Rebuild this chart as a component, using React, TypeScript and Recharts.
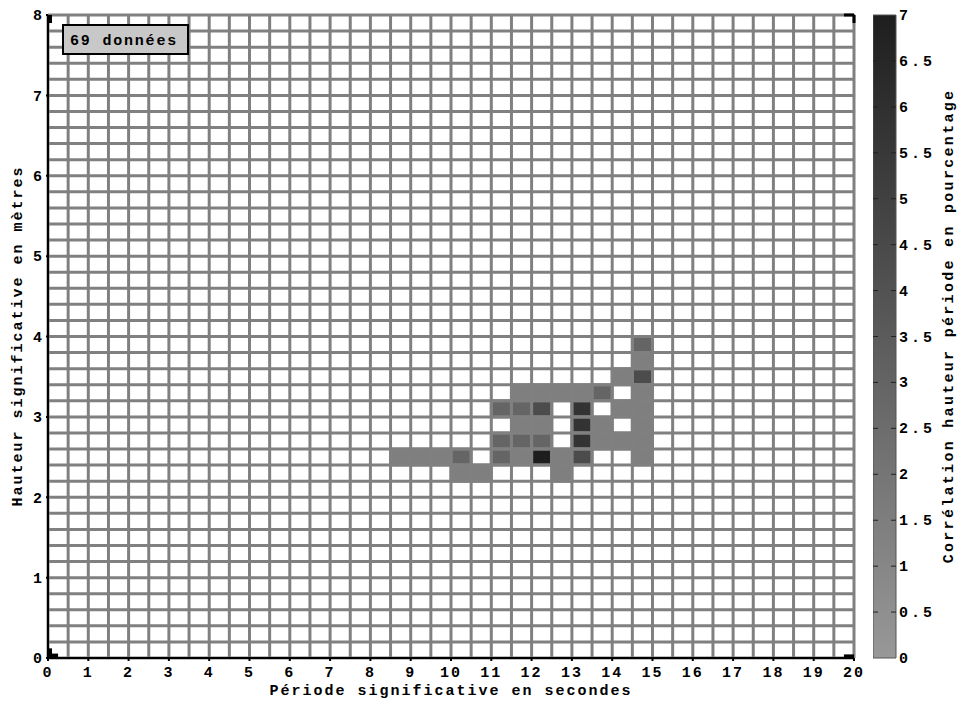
import React from "react";
import {
  ComposedChart,
  BarChart,
  Bar,
  XAxis,
  YAxis,
  ReferenceLine,
  ReferenceArea,
} from "recharts";

// cells: lower-left corner (period in s, height in m) and percentage of the 69 records
const cellPeriod = [
  14.5,
  14.5,
  14.0, 14.5,
  11.5, 12.0, 12.5, 13.0, 13.5, 14.5,
  11.0, 11.5, 12.0, 13.0, 14.0, 14.5,
  11.5, 12.0, 13.0, 13.5, 14.5,
  11.0, 11.5, 12.0, 13.0, 13.5, 14.0, 14.5,
  8.5, 9.0, 9.5, 10.0, 11.0, 11.5, 12.0, 12.5, 13.0, 14.5,
  10.0, 10.5, 12.5,
];
const cellHeight = [
  3.8,
  3.6,
  3.4, 3.4,
  3.2, 3.2, 3.2, 3.2, 3.2, 3.2,
  3.0, 3.0, 3.0, 3.0, 3.0, 3.0,
  2.8, 2.8, 2.8, 2.8, 2.8,
  2.6, 2.6, 2.6, 2.6, 2.6, 2.6, 2.6,
  2.4, 2.4, 2.4, 2.4, 2.4, 2.4, 2.4, 2.4, 2.4, 2.4,
  2.2, 2.2, 2.2,
];
const cellPercent = [
  2.9,
  1.45,
  1.45, 4.35,
  1.45, 1.45, 1.45, 1.45, 2.9, 1.45,
  2.9, 2.9, 4.35, 5.8, 1.45, 1.45,
  1.45, 1.45, 5.8, 1.45, 1.45,
  2.9, 2.9, 2.9, 5.8, 1.45, 1.45, 1.45,
  1.45, 1.45, 1.45, 2.9, 2.9, 1.45, 7.25, 1.45, 4.35, 1.45,
  1.45, 1.45, 1.45,
];

const xTicks = [0, 1, 2, 3, 4, 5, 6, 7, 8, 9, 10, 11, 12, 13, 14, 15, 16, 17, 18, 19, 20];
const yTicks = [0, 1, 2, 3, 4, 5, 6, 7, 8];
const scaleTicks = [0, 0.5, 1, 1.5, 2, 2.5, 3, 3.5, 4, 4.5, 5, 5.5, 6, 6.5, 7];
const scaleBar = [{ name: "scale", max: 7 }];

const CELL_W = 0.5;
const CELL_H = 0.2;
const gridX = Array.from({ length: 41 }, (_, i) => i * CELL_W);
const gridY = Array.from({ length: 41 }, (_, i) => Math.round(i * 2) / 10);

const FONT = "'Liberation Mono', 'DejaVu Sans Mono', monospace";
const GRID = "#808080";

// grey ramp of the colour scale: 0 -> light grey, 7 -> near black
function greyFor(v: number) {
  const t = Math.max(0, Math.min(1, v / 7));
  const g = Math.round(152 - t * 122);
  return `rgb(${g},${g},${g})`;
}

function ScaleTick(props: any) {
  const { x, y, payload } = props;
  const barLeft = x - 26;
  const barRight = x - 3;
  return (
    <g>
      {payload.value > 0 && payload.value < 7 && (
        <>
          <line x1={barLeft} x2={barLeft + 5} y1={y} y2={y} stroke="#222" strokeWidth={1} />
          <line x1={barRight - 5} x2={barRight} y1={y} y2={y} stroke="#222" strokeWidth={1} />
        </>
      )}
      <text
        x={x}
        y={y}
        dy={5}
        fontFamily={FONT}
        fontWeight="bold"
        fontSize={15}
        letterSpacing={3}
        fill="#000"
      >
        {payload.value}
      </text>
    </g>
  );
}

export default function App() {
  const tickStyle = { fill: "#000", fontSize: 15, fontFamily: FONT, fontWeight: "bold" as const, letterSpacing: 2 };

  return (
    <div style={{ position: "relative", width: 959, height: 702, background: "#fff" }}>
      <style>{`body{margin:0}`}</style>

      <div style={{ position: "absolute", left: 0, top: 0 }}>
        <ComposedChart
          width={959}
          height={702}
          data={scaleBar}
          margin={{ top: 15, right: 105, bottom: 0, left: 0 }}
        >
          <XAxis
            type="number"
            dataKey="max"
            domain={[0, 20]}
            allowDataOverflow
            ticks={xTicks}
            interval={0}
            height={44}
            tick={tickStyle}
            tickSize={3}
            tickMargin={5}
            axisLine={{ stroke: "#000", strokeWidth: 2 }}
            tickLine={{ stroke: "#000", strokeWidth: 2 }}
          />
          <YAxis
            type="number"
            domain={[0, 8]}
            allowDataOverflow
            ticks={yTicks}
            interval={0}
            width={48}
            tick={tickStyle}
            tickSize={2}
            tickMargin={2}
            axisLine={{ stroke: "#000", strokeWidth: 2 }}
            tickLine={{ stroke: "#000", strokeWidth: 2 }}
          />

          {gridX.map((v) => (
            <ReferenceLine key={`gx${v}`} x={v} stroke={GRID} strokeWidth={3} />
          ))}
          {gridY.map((v) => (
            <ReferenceLine key={`gy${v}`} y={v} stroke={GRID} strokeWidth={3} />
          ))}

          {cellPeriod.map((p, i) => (
            <ReferenceArea
              key={`c${i}`}
              x1={p}
              x2={p + CELL_W}
              y1={cellHeight[i]}
              y2={cellHeight[i] + CELL_H}
              fill={greyFor(cellPercent[i])}
              fillOpacity={1}
              stroke={GRID}
              strokeWidth={3}
            />
          ))}

          <ReferenceArea x1={0} x2={20} y1={0} y2={8} fill="none" stroke="#000" strokeWidth={1.5} />
          <ReferenceLine segment={[{ x: 0, y: 0.03 }, { x: 0.25, y: 0.03 }]} stroke="#000" strokeWidth={4} />
          <ReferenceLine segment={[{ x: 0.05, y: 0 }, { x: 0.05, y: 0.12 }]} stroke="#000" strokeWidth={4} />
          <ReferenceLine segment={[{ x: 0.05, y: 8 }, { x: 0.05, y: 7.9 }]} stroke="#000" strokeWidth={4} />
          <ReferenceLine segment={[{ x: 19.75, y: 8 }, { x: 20, y: 8 }]} stroke="#000" strokeWidth={3} />
          <ReferenceLine segment={[{ x: 20, y: 8 }, { x: 20, y: 7.9 }]} stroke="#000" strokeWidth={3} />
          <ReferenceLine segment={[{ x: 19.75, y: 0.02 }, { x: 20, y: 0.02 }]} stroke="#000" strokeWidth={4} />
        </ComposedChart>
      </div>

      {/* colour scale */}
      <div style={{ position: "absolute", left: 873, top: 0 }}>
        <BarChart
          width={86}
          height={702}
          data={scaleBar}
          margin={{ top: 15, right: 0, bottom: 44, left: 0 }}
          barCategoryGap={0}
        >
          <defs>
            <linearGradient id="greyScale" x1="0" y1="0" x2="0" y2="1">
              <stop offset="0%" stopColor="rgb(30,30,30)" />
              <stop offset="100%" stopColor="rgb(152,152,152)" />
            </linearGradient>
          </defs>
          <XAxis dataKey="name" hide />
          <YAxis
            orientation="right"
            type="number"
            domain={[0, 7]}
            ticks={scaleTicks}
            interval={0}
            width={63}
            axisLine={false}
            tickLine={false}
            tickSize={0}
            tickMargin={3}
            tick={<ScaleTick />}
          />
          <Bar dataKey="max" fill="url(#greyScale)" stroke="#555" strokeWidth={1} isAnimationActive={false} />
        </BarChart>
      </div>

      {/* titles and record count */}
      <svg
        width={959}
        height={702}
        style={{ position: "absolute", left: 0, top: 0, pointerEvents: "none" }}
        fontFamily={FONT}
        fontWeight="bold"
        fontSize={15}
      >
        <text x={451} y={695} textAnchor="middle" letterSpacing={2}>
          Période significative en secondes
        </text>
        <text
          x={0}
          y={0}
          transform="translate(22,336) rotate(-90)"
          textAnchor="middle"
          letterSpacing={2}
        >
          Hauteur significative en mètres
        </text>
        <text
          x={0}
          y={0}
          transform="translate(953,326) rotate(-90)"
          textAnchor="middle"
          letterSpacing={2.3}
        >
          Corrélation hauteur période en pourcentage
        </text>
        <rect x={63} y={25} width={125} height={29} fill="#c8c8c8" stroke="#000" strokeWidth={2} />
        <text x={70} y={45} letterSpacing={1.8}>
          69 données
        </text>
      </svg>
    </div>
  );
}
